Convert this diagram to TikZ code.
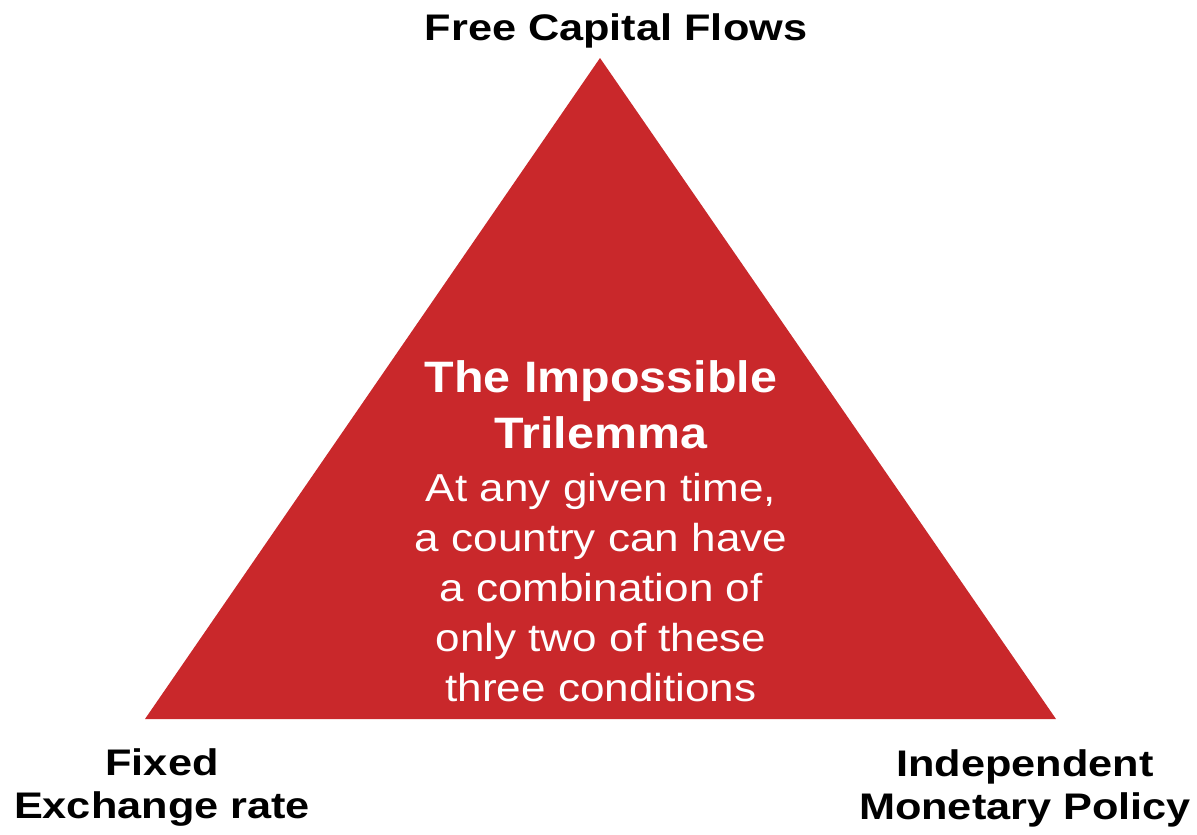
\documentclass[tikz,border=0pt]{standalone}
\usepackage{fontspec}
\setmainfont{Liberation Sans}
\definecolor{trired}{HTML}{C9282B}
\begin{document}
\begin{tikzpicture}[x=1pt,y=-1pt,
  corner/.style={font=\fontsize{37}{43}\selectfont\bfseries, align=center, text=black, inner sep=0pt, xscale=1.17},
  title/.style={font=\fontsize{44}{56}\selectfont\bfseries, align=center, text=white, inner sep=0pt, xscale=1.1},
  body/.style={font=\fontsize{39}{50}\selectfont, align=center, text=white, inner sep=0pt, xscale=1.13}]
\useasboundingbox (0,0) rectangle (1197,835);
\coordinate (top) at (600,58);
\coordinate (bl) at (145,719);
\coordinate (br) at (1056,719);
\fill[trired] (top) -- (br) -- (bl) -- cycle;
\node[corner] (capital) at (616,31) {Free Capital Flows};
\node[corner] (fixed) at (162,788) {Fixed\\Exchange rate};
\node[corner] (monetary) at (1025,788) {Independent\\Monetary Policy};
\node[title] (heading) at (601,405) {The Impossible\\Trilemma};
\node[body] (text) at (601,588) {At any given time,\\a country can have\\a combination of\\only two of these\\three conditions};
\end{tikzpicture}
\end{document}
